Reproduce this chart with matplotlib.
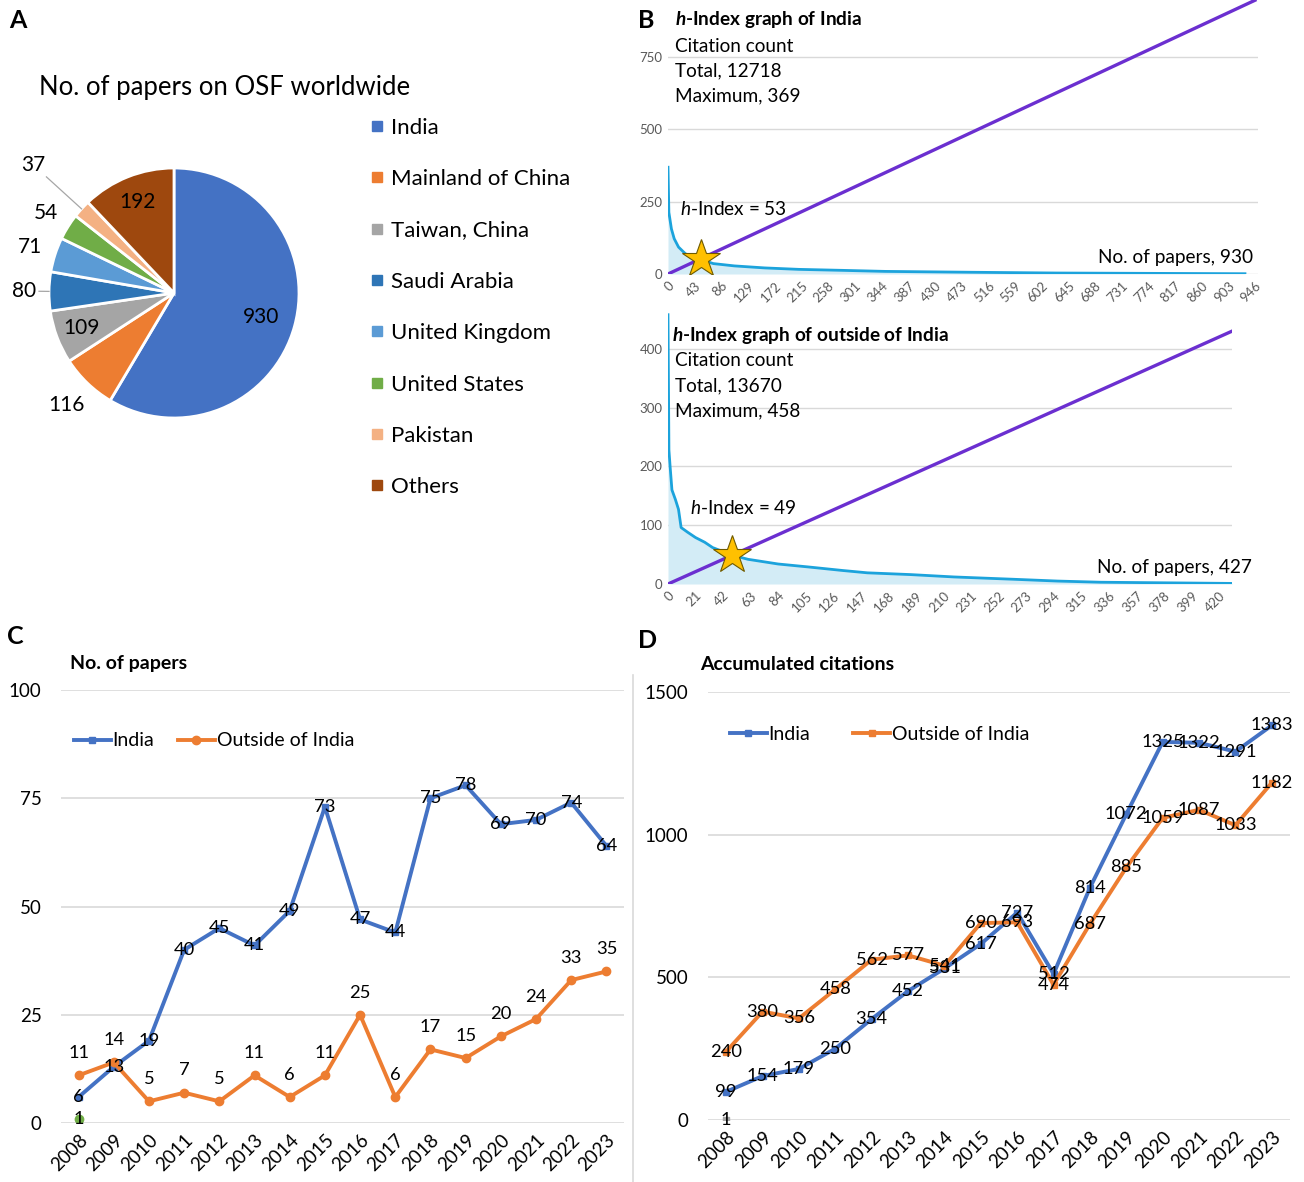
import matplotlib
matplotlib.use("Agg")
import matplotlib.pyplot as plt
from matplotlib.lines import Line2D
import numpy as np

plt.rcParams['font.family'] = ['Lato', 'DejaVu Sans']
plt.rcParams['mathtext.fontset'] = 'custom'
plt.rcParams['mathtext.it'] = 'Lato:italic'
plt.rcParams['mathtext.bfit'] = 'Lato:italic:bold'
plt.rcParams['mathtext.rm'] = 'Lato'
plt.rcParams['mathtext.bf'] = 'Lato:bold'

# ---------------- data ----------------
pie_labels = ["India", "Mainland of China", "Taiwan, China", "Saudi Arabia",
              "United Kingdom", "United States", "Pakistan", "Others"]
pie_values = [930, 116, 109, 80, 71, 54, 37, 192]
pie_colors = ["#4472C4", "#ED7D31", "#A5A5A5", "#2E75B6",
              "#5B9BD5", "#70AD47", "#F4B183", "#9E480E"]

india_rank = [0, 1.4, 5.5, 10, 17, 28, 38, 53, 60, 73, 107, 156, 211, 281, 350, 489, 627, 766, 930]
india_cites = [369, 213, 156, 122, 93, 70, 60, 53, 45, 36, 28, 21, 16, 12.6, 9, 6, 3.4, 2.3, 1]
india_h = 53
india_diag_end = 946

out_rank = [0, 0.7, 1.6, 3, 5.6, 8, 10, 15, 21, 28, 34, 49, 61, 84, 107, 133, 152, 185, 218, 264, 297, 330, 380, 430]
out_cites = [458, 228, 200, 160, 144, 127, 96, 88, 79, 71, 62, 49, 42, 34, 29, 23, 19, 16, 12, 8, 5, 3, 2, 1]
out_h = 49
out_diag_end = 430

years = list(range(2008, 2024))
papers_india = [6, 13, 19, 40, 45, 41, 49, 73, 47, 44, 75, 78, 69, 70, 74, 64]
papers_outside = [11, 14, 5, 7, 5, 11, 6, 11, 25, 6, 17, 15, 20, 24, 33, 35]
papers_other_year = [2008]
papers_other = [1]

cites_india = [99, 154, 179, 250, 354, 452, 531, 617, 727, 512, 814, 1072, 1325, 1322, 1291, 1383]
cites_outside = [240, 380, 356, 458, 562, 577, 541, 690, 693, 474, 687, 885, 1059, 1087, 1033, 1182]
cites_other_year = [2008]
cites_other = [1]

# ---------------- layout helpers ----------------
W, H = 1304, 1182
fig = plt.figure(figsize=(W / 100, H / 100), dpi=100)


def rect(l, r, t, b):
    return [l / W, 1 - b / H, (r - l) / W, (b - t) / H]


def ftext(x, y, s, **kw):
    kw.setdefault('va', 'center')
    return fig.text(x / W, 1 - y / H, s, **kw)


BLUE = "#4472C4"
ORANGE = "#ED7D31"
GRID = "#D9D9D9"
CURVE = "#1CA3DC"
FILL = "#D3ECF6"
PURPLE = "#6B2FD0"
GRAY_TXT = "#595959"

# ---------------- Panel A: pie ----------------
axA = fig.add_axes(rect(0, 348, 93, 493))
wedges, _ = axA.pie(pie_values, colors=pie_colors, startangle=90, counterclock=False,
                    radius=1, wedgeprops=dict(edgecolor='white', linewidth=2))
axA.set_xlim(-1.392, 1.392)
axA.set_ylim(-1.6, 1.6)
axA.set_aspect('equal')
axA.axis('off')

label_r = [0.72, 1.24, 0.79, 1.2, 1.21, 1.21, 1.52, 0.78]
leader = [None, None, None, (1.0, 1.08), None, None, (1.0, 1.38), None]
for w, v, rr, ld in zip(wedges, pie_values, label_r, leader):
    ang = np.deg2rad((w.theta1 + w.theta2) / 2)
    axA.text(rr * np.cos(ang), rr * np.sin(ang), str(v), ha='center', va='center',
             fontsize=15, color='black')
    if ld is not None:
        axA.plot([ld[0] * np.cos(ang), ld[1] * np.cos(ang)],
                 [ld[0] * np.sin(ang), ld[1] * np.sin(ang)], color='#A6A6A6', lw=0.9)

ftext(225, 87, "No. of papers on OSF worldwide", fontsize=18.5, ha='center')
handles = [Line2D([], [], marker='s', ls='none', markersize=7, color=c) for c in pie_colors]
fig.legend(handles, pie_labels, loc='upper left', bbox_to_anchor=(361 / W, 1 - 109 / H),
           frameon=False, fontsize=16, handlelength=0.6, handletextpad=0.35,
           labelspacing=1.41, borderaxespad=0)

ftext(18, 20, "A", fontsize=18, fontweight='bold', ha='center')
ftext(646, 20, "B", fontsize=18, fontweight='bold', ha='center')
ftext(15, 637, "C", fontsize=18, fontweight='bold', ha='center')
ftext(648, 640, "D", fontsize=18, fontweight='bold', ha='center')


# ---------------- Panel B ----------------
def hindex_axes(r, rank, cites, h, diag_end, xmax, ymax, xticks, yticks):
    ax = fig.add_axes(r)
    ax.fill_between(rank, cites, 0, color=FILL, lw=0, zorder=1)
    ax.plot(rank, cites, color=CURVE, lw=2.0, zorder=3)
    ax.plot([0, diag_end], [0, diag_end], color=PURPLE, lw=2.4, zorder=4)
    ax.plot([h], [h], marker='*', markersize=29, color='#FFC000',
            markeredgecolor='#6E5A00', markeredgewidth=0.8, zorder=5)
    ax.set_xlim(0, xmax)
    ax.set_ylim(0, ymax)
    ax.set_yticks(yticks)
    ax.set_xticks(xticks)
    ax.set_xticklabels([str(t) for t in xticks], rotation=45, ha='right',
                       rotation_mode='anchor')
    ax.tick_params(length=0, labelsize=9.5, labelcolor=GRAY_TXT, pad=4)
    ax.grid(axis='y', color=GRID, lw=1)
    ax.set_axisbelow(True)
    for s in ax.spines.values():
        s.set_visible(False)
    ax.patch.set_alpha(0)
    return ax


axB1 = hindex_axes(rect(668, 1258, 0, 274), india_rank, india_cites, india_h, india_diag_end,
                   951, 947, list(range(0, 947, 43)), [0, 250, 500, 750])
axB2 = hindex_axes(rect(668, 1232, 312, 584), out_rank, out_cites, out_h, out_diag_end,
                   430, 462.6, list(range(0, 421, 21)), [0, 100, 200, 300, 400])

BF = 13.7
ftext(675, 20, r"$\mathbfit{h}$-Index graph of India", fontsize=BF, fontweight='bold')
ftext(675, 46, "Citation count", fontsize=BF)
ftext(675, 71, "Total, 12718", fontsize=BF)
ftext(675, 96, "Maximum, 369", fontsize=BF)
ftext(680, 209, r"$\mathit{h}$-Index = 53", fontsize=BF)
ftext(1253, 258, "No. of papers, 930", fontsize=BF, ha='right')

ftext(672, 336, r"$\mathbfit{h}$-Index graph of outside of India", fontsize=BF, fontweight='bold')
ftext(675, 361, "Citation count", fontsize=BF)
ftext(675, 386, "Total, 13670", fontsize=BF)
ftext(675, 411, "Maximum, 458", fontsize=BF)
ftext(690, 508, r"$\mathit{h}$-Index = 49", fontsize=BF)
ftext(1252, 568, "No. of papers, 427", fontsize=BF, ha='right')


# ---------------- Panels C and D ----------------
def style_line_axes(ax, ylim, yticks):
    ax.set_xlim(2007.5, 2023.5)
    ax.set_ylim(*ylim)
    ax.set_yticks(yticks)
    ax.set_xticks(years)
    ax.set_xticklabels([str(y) for y in years], rotation=45, ha='right',
                       rotation_mode='anchor')
    ax.tick_params(length=0, labelsize=13.5, labelcolor='black')
    ax.tick_params(axis='x', pad=6)
    ax.tick_params(axis='y', pad=14)
    ax.grid(axis='y', color=GRID, lw=1.2)
    ax.set_axisbelow(True)
    for s in ax.spines.values():
        s.set_visible(False)
    ax.patch.set_alpha(0)


LF = 13.2
# C
axC = fig.add_axes(rect(61, 624, 690, 1123))
style_line_axes(axC, (0, 100), [0, 25, 50, 75, 100])
lC1, = axC.plot(years, papers_india, color=BLUE, lw=2.8, marker='s', markersize=4.5, label='India')
lC2, = axC.plot(years, papers_outside, color=ORANGE, lw=2.8, marker='o', markersize=6,
                label='Outside of India')
axC.plot(papers_other_year, papers_other, color='#70AD47', marker='o', markersize=6, ls='none')
for x, v in zip(years, papers_india):
    axC.annotate(str(v), (x, v), ha='center', va='center', fontsize=LF)
for x, v in zip(years, papers_outside):
    axC.annotate(str(v), (x, v), xytext=(0, 16), textcoords='offset points',
                 ha='center', va='center', fontsize=LF)
for x, v in zip(papers_other_year, papers_other):
    axC.annotate(str(v), (x, v), ha='center', va='center', fontsize=LF)
axC.legend(handles=[lC1, lC2], loc='center left', bbox_to_anchor=(66 / W, 1 - 741 / H),
           bbox_transform=fig.transFigure, ncol=2, frameon=False, fontsize=14,
           handlelength=1.9, handletextpad=0.1, columnspacing=1.2, borderaxespad=0)
ftext(70, 664, "No. of papers", fontsize=14, fontweight='bold')

# D
axD = fig.add_axes(rect(708, 1290, 692, 1120))
style_line_axes(axD, (0, 1500), [0, 500, 1000, 1500])
lD1, = axD.plot(years, cites_india, color=BLUE, lw=2.8, marker='s', markersize=4, label='India')
lD2, = axD.plot(years, cites_outside, color=ORANGE, lw=2.8, marker='s', markersize=4,
                label='Outside of India')
axD.plot(cites_other_year, cites_other, color='#A5A5A5', marker='s', markersize=5, ls='none')
for x, v in zip(years, cites_india):
    axD.annotate(str(v), (x, v), ha='center', va='center', fontsize=LF)
for x, v in zip(years, cites_outside):
    axD.annotate(str(v), (x, v), ha='center', va='center', fontsize=LF)
for x, v in zip(cites_other_year, cites_other):
    axD.annotate(str(v), (x, v), ha='center', va='center', fontsize=LF)
axD.legend(handles=[lD1, lD2], loc='center left', bbox_to_anchor=(722 / W, 1 - 734 / H),
           bbox_transform=fig.transFigure, ncol=2, frameon=False, fontsize=14,
           handlelength=1.9, handletextpad=0.1, columnspacing=2.2, borderaxespad=0)
ftext(700, 665, "Accumulated citations", fontsize=14, fontweight='bold')

fig.add_artist(Line2D([633 / W, 633 / W], [1 - 675 / H, 0], color=GRID, lw=1.2))

fig.savefig("out.png", dpi=100)
